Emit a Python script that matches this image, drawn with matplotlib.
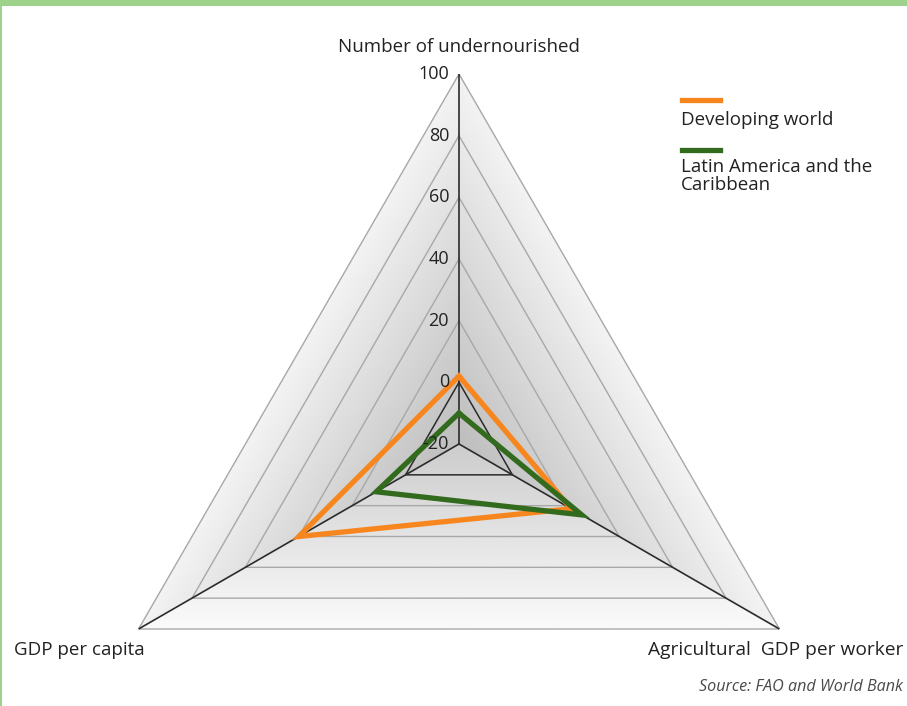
import numpy as np
import matplotlib.pyplot as plt
import matplotlib.transforms as mtransforms
from matplotlib.patches import Polygon, Rectangle
from matplotlib.lines import Line2D

# axes of the radar, in drawing order (top, lower left, lower right)
categories = ['Number of undernourished', 'GDP per capita', 'Agricultural  GDP per worker']
developing_world = [2, 40, 22]
latin_america = [-10, 11, 26]
tick_values = [100, 80, 60, 40, 20, 0, -20]
series_names = ['Developing world', 'Latin America and the\nCaribbean']
source_text = 'Source: FAO and World Bank'

R_MIN, R_MAX = -20, 100
ORANGE = '#f7861f'
GREEN = '#336b1e'
BORDER = '#9ed28b'
TEXT = '#222222'

plt.rcParams['font.family'] = ['Open Sans', 'DejaVu Sans']

W, H = 907, 706
fig = plt.figure(figsize=(W / 100, H / 100), dpi=100)
cx, cy, rad = 459, 444, 370
ax = fig.add_axes([(cx - rad) / W, (H - cy - rad) / H, 2 * rad / W, 2 * rad / H],
                  projection='polar')
ax.set_rlim(R_MIN, R_MAX)
ax.set_axis_off()

angles = np.deg2rad([90, 210, 330])
closed = np.append(angles, angles[0])

# shaded background: darker toward the centre, bottom face a bit lighter
th = np.linspace(0, 2 * np.pi, 1441)
rr = np.linspace(R_MIN, R_MAX, 361)
thc = (th[:-1] + th[1:]) / 2
rrc = (rr[:-1] + rr[1:]) / 2
TH, RR = np.meshgrid(thc, rrc)
s = (RR - R_MIN) / (R_MAX - R_MIN)
normals = np.deg2rad([270, 30, 150])
proj = np.stack([np.cos(TH - n) for n in normals])
face = proj.argmax(0)
p = np.clip(s * proj.max(0) / 0.5, 0, 1)
gray = np.where(face == 0, 0.80 + 0.18 * p, 0.74 + 0.21 * p)
mesh = ax.pcolormesh(th, rr, gray, cmap='gray', vmin=0, vmax=1, shading='flat',
                     rasterized=True, zorder=0)
tri = Polygon(np.column_stack([angles, [R_MAX] * 3]), closed=True,
              transform=ax.transData, facecolor='none', edgecolor='none')
ax.add_patch(tri)
mesh.set_clip_path(tri)

# grid rings and spokes
for v in tick_values[:-1]:
    ax.plot(closed, [v] * 4, color='#2b2b2b' if v == 0 else '#a8a8a8',
            lw=1.1 if v == 0 else 1.0, zorder=2)
for a in angles:
    ax.plot([a, a], [R_MIN, R_MAX], color='#2b2b2b', lw=1.2, zorder=2)

# data
ax.plot(closed, developing_world + developing_world[:1], color=ORANGE, lw=3.8,
        solid_joinstyle='miter', zorder=4)
ax.plot(closed, latin_america + latin_america[:1], color=GREEN, lw=3.8,
        solid_joinstyle='miter', zorder=5)

# radial tick labels along the top spoke
off = mtransforms.offset_copy(ax.transData, fig=fig, x=-10, y=0, units='dots')
for v in tick_values:
    ax.text(np.pi / 2, v, str(v), transform=off, ha='right', va='center',
            fontsize=13, color=TEXT, zorder=6)

# category labels
fig.text(459 / W, 1 - 47 / H, categories[0], ha='center', va='center', fontsize=13.5, color=TEXT)
fig.text(14 / W, 1 - 650 / H, categories[1], ha='left', va='center', fontsize=13.5, color=TEXT)
fig.text(903 / W, 1 - 650 / H, categories[2], ha='right', va='center', fontsize=13.8, color=TEXT)
fig.text(903 / W, 1 - 687 / H, source_text, ha='right', va='center', fontsize=11.6,
         style='italic', color='#4a4a4a')

# legend
for name, col, ly, ty in [(series_names[0], ORANGE, 100, 111),
                          (series_names[1], GREEN, 150, 158)]:
    fig.add_artist(Line2D([682 / W, 720 / W], [1 - ly / H] * 2, color=col, lw=3.8,
                          transform=fig.transFigure))
    fig.text(681 / W, 1 - ty / H, name, ha='left', va='top', fontsize=13.5,
             color=TEXT, linespacing=1.0)

# green frame at top and left
fig.add_artist(Rectangle((0, 1 - 6 / H), 1, 6 / H, transform=fig.transFigure,
                         color=BORDER, lw=0))
fig.add_artist(Rectangle((0, 0), 2 / W, 1, transform=fig.transFigure,
                         color=BORDER, lw=0))

fig.savefig('out.png', dpi=100)
